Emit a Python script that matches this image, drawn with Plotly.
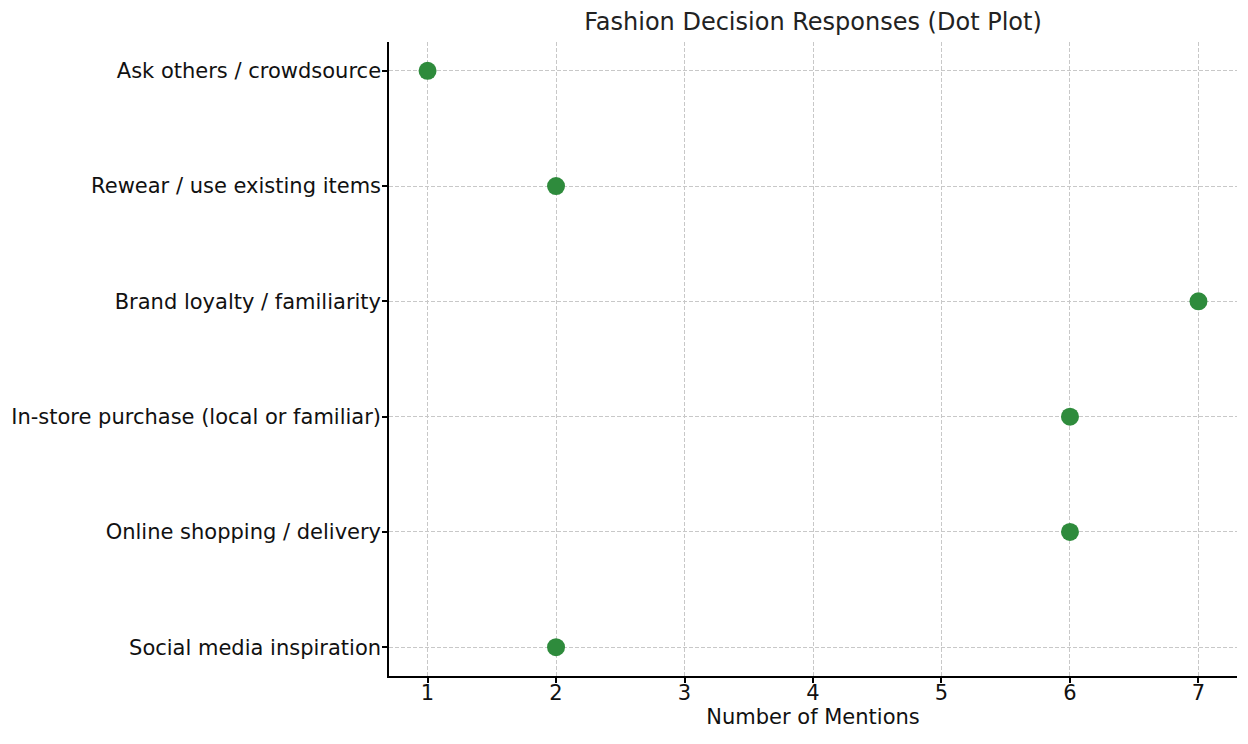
import plotly.graph_objects as go

categories = [
    "Social media inspiration",
    "Online shopping / delivery",
    "In-store purchase (local or familiar)",
    "Brand loyalty / familiarity",
    "Rewear / use existing items",
    "Ask others / crowdsource",
]
mentions = [2, 6, 6, 7, 2, 1]
x_ticks = [1, 2, 3, 4, 5, 6, 7]

font_family = "DejaVu Sans"

fig = go.Figure()
fig.add_trace(go.Scatter(
    x=mentions,
    y=categories,
    mode="markers",
    marker=dict(size=18, color="#2e8b3c", line=dict(width=0)),
    showlegend=False,
))

fig.update_layout(
    width=1248, height=744,
    margin=dict(l=381, r=19, t=34, b=76, autoexpand=False),
    paper_bgcolor="white",
    plot_bgcolor="white",
    font=dict(family=font_family, size=21, color="#111111"),
    title=dict(
        text="Fashion Decision Responses (Dot Plot)",
        x=0.5, xref="paper", xanchor="center",
        y=1 - 14 / 744, yref="container", yanchor="middle",
        font=dict(size=24, color="#222222", family=font_family),
    ),
)

fig.update_xaxes(
    range=[0.7, 7.3],
    tickvals=x_ticks,
    ticks="outside", ticklen=5, tickwidth=1.5, tickcolor="black",
    ticklabelstandoff=-8,
    showline=True, linecolor="black", linewidth=1.5,
    showgrid=True, gridcolor="#c8c8c8", griddash="4px,2px", gridwidth=1,
    zeroline=False, automargin=False,
    title=dict(text="Number of Mentions", font=dict(size=21), standoff=4),
    tickfont=dict(size=21),
)
fig.update_yaxes(
    type="category",
    categoryorder="array", categoryarray=categories,
    range=[-0.25, 5.25],
    ticks="outside", ticklen=5, tickwidth=1.5, tickcolor="black",
    ticklabelstandoff=-3,
    showline=True, linecolor="black", linewidth=1.5,
    showgrid=True, gridcolor="#c8c8c8", griddash="4px,2px", gridwidth=1,
    zeroline=False, automargin=False,
    tickfont=dict(size=21),
)

fig.write_html("out.html")
